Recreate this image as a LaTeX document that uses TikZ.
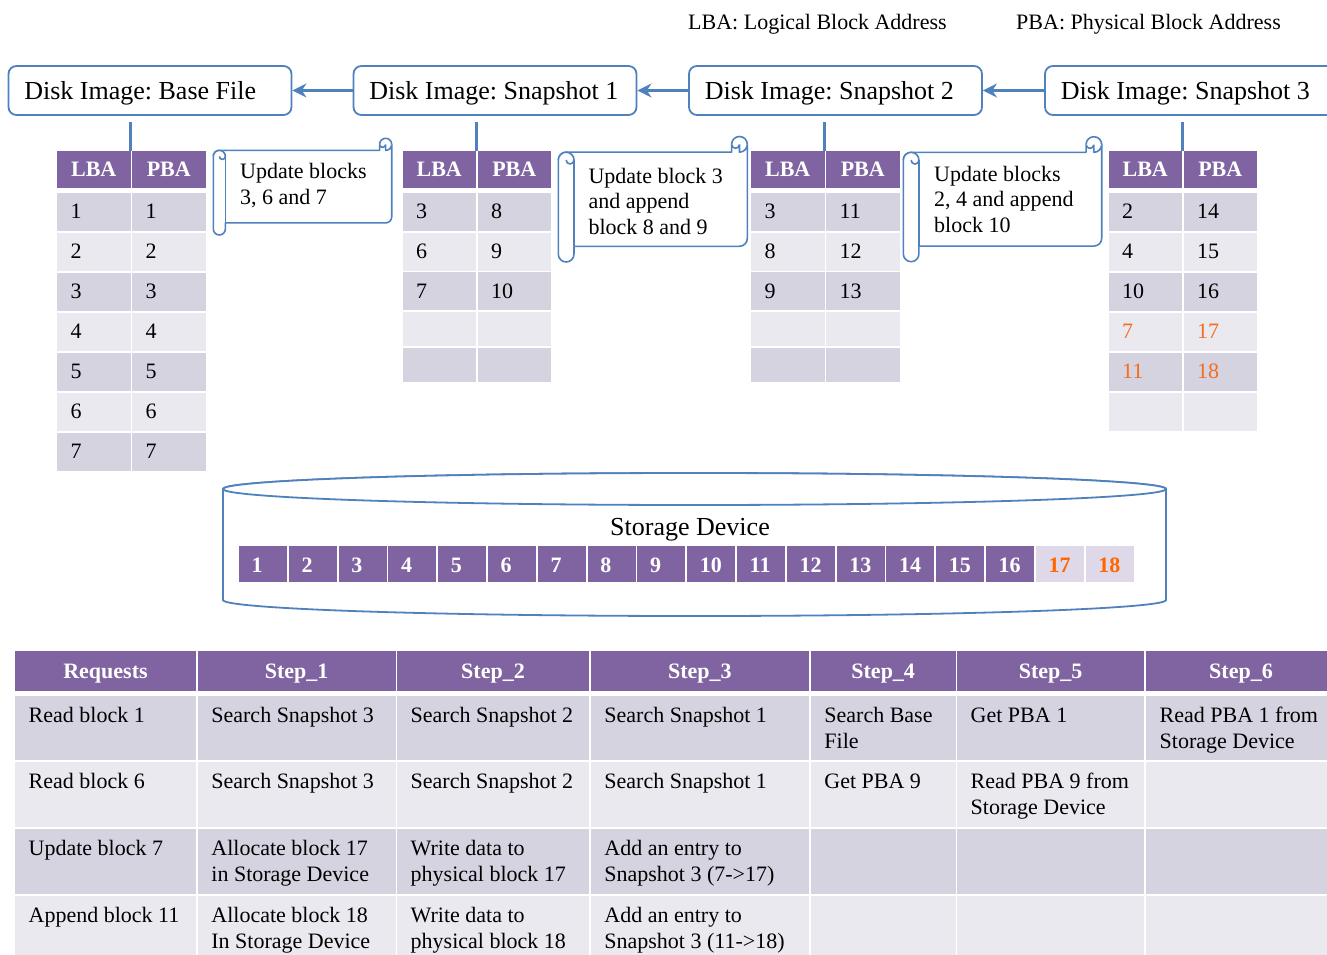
\documentclass[tikz,border=0pt]{standalone}
\usepackage{fontspec}
\setmainfont{Liberation Serif}
\usetikzlibrary{arrows.meta}
\frenchspacing
\definecolor{hdr}{RGB}{128,100,162}
\definecolor{rowA}{RGB}{214,211,225}
\definecolor{rowB}{RGB}{235,233,240}
\definecolor{cellL}{RGB}{223,216,233}
\definecolor{blu}{RGB}{79,129,189}
\definecolor{orA}{RGB}{255,102,0}
\definecolor{orB}{RGB}{242,110,30}
\newcommand{\fs}{\fontsize{22}{26.5}\selectfont}
\newcommand{\fb}{\fontsize{26}{31}\selectfont}
\newcommand{\ctext}[1]{\parbox[t]{220pt}{\raggedright\fs #1}}
\newcommand{\stext}[1]{\parbox[t]{220pt}{\raggedright\fontsize{22}{25.8}\selectfont #1}}
\newcommand{\scrollshape}[4]{%
 \pgfmathsetmacro\sc{0.125*(#4-#2)}%
 \pgfmathsetmacro\sh{\sc/2}%
 \pgfmathsetmacro\sq{\sc/4}%
 \filldraw[scrollst] (#3,#2+\sh) arc[start angle=0, delta angle=90, radius=\sh] -- (#3-\sh,#2+\sh) arc[start angle=0, delta angle=180, radius=\sq] -- (#3-\sc,#2+\sc) -- (#1+\sh,#2+\sc) arc[start angle=270, delta angle=-90, radius=\sh] -- (#1,#4-\sh) arc[start angle=180, delta angle=-180, radius=\sh] -- (#1+\sc,#4-\sc) -- (#3-\sh,#4-\sc) arc[start angle=90, delta angle=-90, radius=\sh] -- cycle;
 \draw[scrollst] (#1,#2+1.5*\sc) arc[start angle=180, delta angle=180, radius=\sh] arc[start angle=0, delta angle=180, radius=\sq];
 \draw[scrollst] (#1+\sc,#2+1.5*\sc) -- (#1+\sc,#4-\sc);
 \draw[scrollst] (#3-\sc,#2+\sh) arc[start angle=180, delta angle=180, radius=\sh];
}
\begin{document}
\begin{tikzpicture}[x=1pt,y=-1pt,
  cell/.style={inner sep=0pt, outer sep=0pt, anchor=north west, draw=none},
  hcell/.style={cell, fill=hdr, text=white, font=\fs\bfseries, text height=14.6pt, text depth=0pt, align=center},
  num/.style={inner sep=0pt, anchor=base west, font=\fs, xshift=13.5pt, yshift=-7.4pt},
  ctx/.style={inner sep=0pt, anchor=base west, xshift=13.5pt, yshift=-26.3pt},
  box/.style={draw=blu, line width=1.8pt, rounded corners=8pt, fill=white, minimum height=49pt, inner sep=0pt},
  boxtxt/.style={inner sep=0pt, anchor=base west, font=\fb, xshift=16.5pt, yshift=-8.8pt},
  arr/.style={draw=blu, line width=3pt, -{Stealth[length=14pt,width=14pt]}},
  conn/.style={draw=blu, line width=3pt, shorten >=6pt},
  scrollst/.style={draw=blu, line width=1.6pt, fill=white, line join=round},
  cyl/.style={draw=blu, line width=1.8pt, fill=white},
  blk/.style={cell, fill=hdr, minimum width=48pt, minimum height=36.6pt},
  blktxt/.style={inner sep=0pt, anchor=base west, font=\fs\bfseries, xshift=12.5pt, yshift=-8pt}
]
\useasboundingbox (0,0) rectangle (1327,955);
\clip (0,0) rectangle (1327,955);

% legend
\node[inner sep=0pt, anchor=base west, font=\fs] (legA) at (688,29.3) {LBA: Logical Block Address};
\node[inner sep=0pt, anchor=base west, font=\fs] (legB) at (1016,29.3) {PBA: Physical Block Address};

% top boxes
\node[box, minimum width=283pt] (b1) at (150,90.5) {};
\node[box, minimum width=283pt] (b2) at (495,90.5) {};
\node[box, minimum width=293pt] (b3) at (835.5,90.5) {};
\node[box, minimum width=293pt] (b4) at (1191.5,90.5) {};
\node[boxtxt] (b1t) at (b1.west) {Disk Image: Base File};
\node[boxtxt] (b2t) at (b2.west) {Disk Image: Snapshot 1};
\node[boxtxt] (b3t) at (b3.west) {Disk Image: Snapshot 2};
\node[boxtxt] (b4t) at (b4.west) {Disk Image: Snapshot 3};
\draw[arr] (b2.west) -- (b1.east);
\draw[arr] (b3.west) -- (b2.east);
\draw[arr] (b4.west) -- (b3.east);

% LBA/PBA tables
\foreach \tn/\tx in {t1/57, t2/402.5, t3/751, t4/1108.5}{
  \node[hcell, minimum width=73.5pt, minimum height=37pt] (\tn la) at (\tx,151) {LBA};
  \node[hcell, minimum width=73.5pt, minimum height=37pt] (\tn pa) at (\tx+75,151) {PBA};
}
\foreach \a/\b/\tc/\fc [count=\i] in {1/1/black/rowA, 2/2/black/rowB, 3/3/black/rowA, 4/4/black/rowB, 5/5/black/rowA, 6/6/black/rowB, 7/7/black/rowA}{
  \node[cell, fill=\fc, minimum width=73.5pt, minimum height=38pt] (t1r\i a) at (57,192.5+40*\i-40) {};
  \node[cell, fill=\fc, minimum width=73.5pt, minimum height=38pt] (t1r\i b) at (132,192.5+40*\i-40) {};
  \node[num, text=\tc] at (t1r\i a.west) {\a};
  \node[num, text=\tc] at (t1r\i b.west) {\b};
}
\foreach \a/\b/\fc/\yy/\hh [count=\i] in {3/8/rowA/192.5/38, 6/9/rowB/232.5/38, 7/10/rowA/272/37.5, //rowB/311.7/34.3, //rowA/348.3/34}{
  \node[cell, fill=\fc, minimum width=73.5pt, minimum height=\hh] (t2r\i a) at (402.5,\yy) {};
  \node[cell, fill=\fc, minimum width=73.5pt, minimum height=\hh] (t2r\i b) at (477.5,\yy) {};
  \node[num] at (t2r\i a.west) {\a};
  \node[num] at (t2r\i b.west) {\b};
}
\foreach \a/\b/\fc/\yy/\hh [count=\i] in {3/11/rowA/192.5/38, 8/12/rowB/232.5/38, 9/13/rowA/272/37.5, //rowB/311.7/34.3, //rowA/348.3/34}{
  \node[cell, fill=\fc, minimum width=73.5pt, minimum height=\hh] (t3r\i a) at (751,\yy) {};
  \node[cell, fill=\fc, minimum width=73.5pt, minimum height=\hh] (t3r\i b) at (826,\yy) {};
  \node[num] at (t3r\i a.west) {\a};
  \node[num] at (t3r\i b.west) {\b};
}
\foreach \a/\b/\tc/\fc [count=\i] in {2/14/black/rowA, 4/15/black/rowB, 10/16/black/rowA, 7/17/orB/rowB, 11/18/orB/rowA, //black/rowB}{
  \node[cell, fill=\fc, minimum width=73.5pt, minimum height=38pt] (t4r\i a) at (1108.5,192.5+40*\i-40) {};
  \node[cell, fill=\fc, minimum width=73.5pt, minimum height=38pt] (t4r\i b) at (1183.5,192.5+40*\i-40) {};
  \node[num, text=\tc] at (t4r\i a.west) {\a};
  \node[num, text=\tc] at (t4r\i b.west) {\b};
}
% connectors box -> table
\draw[conn] (t1la.north east) -- (t1la.north east |- b1.south);
\draw[conn] (t2la.north east) -- (t2la.north east |- b2.south);
\draw[conn] (t3la.north east) -- (t3la.north east |- b3.south);
\draw[conn] (t4la.north east) -- (t4la.north east |- b4.south);

% scrolls
\scrollshape{213.3}{138.3}{391.7}{235}
\scrollshape{558.3}{136.5}{747.3}{262}
\scrollshape{903.3}{136.7}{1101.7}{261.7}
\node[inner sep=0pt, anchor=base west] (s1) at (240,178.3) {\stext{Update blocks\\3, 6 and 7}};
\node[inner sep=0pt, anchor=base west] (s2) at (588.3,183) {\stext{Update block 3\\and append\\block 8 and 9}};
\node[inner sep=0pt, anchor=base west] (s3) at (934,181) {\stext{Update blocks\\2, 4 and append\\block 10}};

% storage cylinder
\filldraw[cyl] (223,489) -- (223,600) arc[start angle=180, end angle=0, x radius=471.5, y radius=16] -- (1166,489) arc[start angle=0, end angle=-180, x radius=471.5, y radius=16] -- cycle;
\draw[cyl] (694.5,489) ellipse[x radius=471.5, y radius=16];
\node[inner sep=0pt, anchor=base, font=\fb] (sdev) at (690,535.6) {Storage Device};
\foreach \i in {1,...,16}{
  \node[blk] (sb\i) at (239+49.8*\i-49.8,545.7) {};
  \node[blktxt, text=white] at (sb\i.west) {\i};
}
\foreach \i in {17,18}{
  \node[blk, fill=cellL] (sb\i) at (239+49.8*\i-49.8,545.7) {};
  \node[blktxt, text=orA] at (sb\i.west) {\i};
}

% bottom table
\foreach \cn/\cx/\cw/\hd in {c1/15/181/Requests, c2/197.7/198/Step\_1, c3/397/192/Step\_2, c4/590.7/218.3/Step\_3, c5/810.7/145/Step\_4, c6/957/187.3/Step\_5, c7/1146/190/Step\_6}{
  \node[hcell, minimum width=\cw, minimum height=40pt] (h\cn) at (\cx,650.7) {\hd};
  \node[cell, fill=rowA, minimum width=\cw, minimum height=63.5pt] (r1\cn) at (\cx,696) {};
  \node[cell, fill=rowB, minimum width=\cw, minimum height=64.5pt] (r2\cn) at (\cx,762) {};
  \node[cell, fill=rowA, minimum width=\cw, minimum height=64.5pt] (r3\cn) at (\cx,829) {};
  \node[cell, fill=rowB, minimum width=\cw, minimum height=66pt] (r4\cn) at (\cx,895.7) {};
}
\node[ctx] at (r1c1.north west) {\ctext{Read block 1}};
\node[ctx] at (r1c2.north west) {\ctext{Search Snapshot 3}};
\node[ctx] at (r1c3.north west) {\ctext{Search Snapshot 2}};
\node[ctx] at (r1c4.north west) {\ctext{Search Snapshot 1}};
\node[ctx] at (r1c5.north west) {\ctext{Search Base\\File}};
\node[ctx] at (r1c6.north west) {\ctext{Get PBA 1}};
\node[ctx] at (r1c7.north west) {\ctext{Read PBA 1 from\\Storage Device}};
\node[ctx] at (r2c1.north west) {\ctext{Read block 6}};
\node[ctx] at (r2c2.north west) {\ctext{Search Snapshot 3}};
\node[ctx] at (r2c3.north west) {\ctext{Search Snapshot 2}};
\node[ctx] at (r2c4.north west) {\ctext{Search Snapshot 1}};
\node[ctx] at (r2c5.north west) {\ctext{Get PBA 9}};
\node[ctx] at (r2c6.north west) {\ctext{Read PBA 9 from\\Storage Device}};
\node[ctx] at (r3c1.north west) {\ctext{Update block 7}};
\node[ctx] at (r3c2.north west) {\ctext{Allocate block 17\\in Storage Device}};
\node[ctx] at (r3c3.north west) {\ctext{Write data to\\physical block 17}};
\node[ctx] at (r3c4.north west) {\ctext{Add an entry to\\Snapshot 3 (7->17)}};
\node[ctx] at (r4c1.north west) {\ctext{Append block 11}};
\node[ctx] at (r4c2.north west) {\ctext{Allocate block 18\\In Storage Device}};
\node[ctx] at (r4c3.north west) {\ctext{Write data to\\physical block 18}};
\node[ctx] at (r4c4.north west) {\ctext{Add an entry to\\Snapshot 3 (11->18)}};
\end{tikzpicture}
\end{document}
